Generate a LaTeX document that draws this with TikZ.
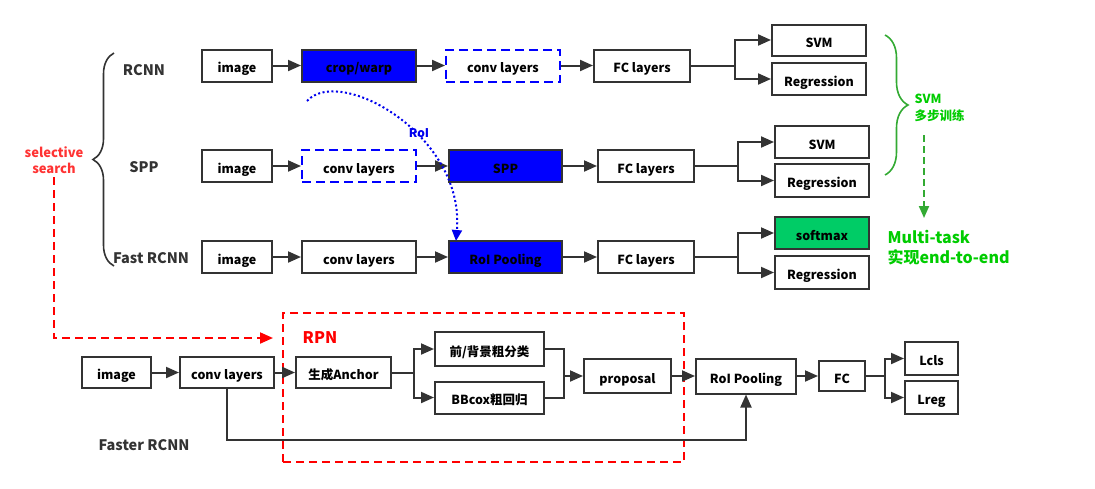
\documentclass[tikz,border=0pt]{standalone}
\usepackage{fontspec}
\setmainfont{Noto Sans CJK SC}
\usetikzlibrary{arrows.meta,decorations.pathreplacing}
\definecolor{dk}{HTML}{333333}
\definecolor{bfill}{HTML}{0000FF}
\definecolor{gfill}{HTML}{00CC66}
\definecolor{rd}{HTML}{FF0000}
\definecolor{ssred}{HTML}{FF3333}
\definecolor{gbr}{HTML}{33AA33}
\definecolor{gtx}{HTML}{00CC00}
\definecolor{roiblue}{HTML}{0000EE}
\begin{document}
\begin{tikzpicture}[x=1pt,y=-1pt,
  sz/.style 2 args={minimum width=#1pt, minimum height=#2pt},
  box/.style={draw=dk, line width=2pt, fill=white, inner sep=0pt, text height=14pt, text depth=0pt, text=black, font=\bfseries\fontsize{12.5}{14}\selectfont},
  dbox/.style={box, draw=blue, dash pattern=on 9pt off 5pt},
  bbox/.style={box, fill=bfill},
  gbox/.style={box, fill=gfill},
  ln/.style={draw=dk, line width=2pt},
  arr/.style={ln, -{Triangle[length=13pt,width=11pt]}},
  lbl/.style={text=dk, font=\bfseries\fontsize{14.5}{16}\selectfont},
  roiarr/.style={draw=roiblue, line width=2pt, dash pattern=on 2pt off 2.5pt, -{Triangle[length=11pt,width=10pt]}},
  rdarr/.style={draw=rd, line width=2pt, dash pattern=on 8pt off 5pt, -{Triangle[length=13pt,width=11pt]}},
  garr/.style={draw=gbr, line width=2pt, dash pattern=on 7pt off 4pt, -{Triangle[length=12pt,width=10pt]}}
]
\useasboundingbox[fill=white] (0,0) rectangle (1095,488);

% left labels and brace
\node[lbl] (rcl) at (144,70) {RCNN};
\node[lbl] (sppl) at (144,167) {SPP};
\node[lbl] (fastl) at (151,258) {Fast RCNN};
\draw[dk, line width=1.6pt, decorate, decoration={brace, amplitude=21pt}] (114,266) -- (114,53);
\node[text=ssred, align=center, font=\bfseries\fontsize{13}{16.5}\selectfont] (ss) at (54,160) {selective\\search};

% row 1
\node[box,sz={70}{32}] (i1) at (237,65.5) {image};
\node[bbox,sz={114}{32}] (c1) at (359,65.5) {crop/warp};
\node[dbox,sz={114}{32}] (v1) at (503,65.5) {conv layers};
\node[box,sz={96}{32}] (f1) at (642,65.5) {FC layers};
\node[box,sz={94}{31}] (s1) at (819,40) {SVM};
\node[box,sz={94}{32}] (r1) at (819,79) {Regression};
\draw[arr] (i1) -- (c1);
\draw[arr] (c1) -- (v1);
\draw[arr] (v1) -- (f1);
\draw[arr] (f1.east) -- ++(43.5,0) |- (s1.west);
\draw[arr] (f1.east) -- ++(43.5,0) |- (r1.west);

% row 2
\node[box,sz={70}{32}] (i2) at (237,166) {image};
\node[dbox,sz={114}{32}] (v2) at (359,166) {conv layers};
\node[bbox,sz={113}{32}] (sp2) at (505.5,166) {SPP};
\node[box,sz={96}{32}] (f2) at (646,166) {FC layers};
\node[box,sz={94}{32}] (s2) at (822,142) {SVM};
\node[box,sz={94}{33}] (r2) at (822,180.5) {Regression};
\draw[arr] (i2) -- (v2);
\draw[arr] (v2) -- (sp2);
\draw[arr] (sp2) -- (f2);
\draw[arr] (f2.east) -- ++(43,0) |- (s2.west);
\draw[arr] (f2.east) -- ++(43,0) |- (r2.west);

% row 3
\node[box,sz={70}{32}] (i3) at (237,257) {image};
\node[box,sz={114}{32}] (v3) at (359,257) {conv layers};
\node[bbox,sz={113}{32}] (ro3) at (505.5,257) {RoI Pooling};
\node[box,sz={96}{32}] (f3) at (646,257) {FC layers};
\node[gbox,sz={94}{32}] (s3) at (822,233) {softmax};
\node[box,sz={94}{33}] (r3) at (822,272.5) {Regression};
\draw[arr] (i3) -- (v3);
\draw[arr] (v3) -- (ro3);
\draw[arr] (ro3) -- (f3);
\draw[arr] (f3.east) -- ++(43,0) |- (s3.west);
\draw[arr] (f3.east) -- ++(43,0) |- (r3.west);

% RoI dotted arrow
\coordinate (roiA) at (307,101);
\coordinate (roiB) at (456,241);
\draw[roiarr] (roiA) .. controls (340,65) and (465,135) .. (roiB);
\node[text=roiblue, font=\bfseries\fontsize{12}{14}\selectfont] (roil) at (419,133) {RoI};

% green brace and texts
\draw[gbr, line width=1.6pt, decorate, decoration={brace, amplitude=23pt}] (885,35) -- (885,175);
\node[anchor=west, text=gtx, align=left, font=\bfseries\fontsize{12.5}{17}\selectfont] (svmt) at (911,107.5) {SVM\\多步训练};
\coordinate (gA) at (924,135);
\coordinate (gB) at (924,218);
\draw[garr] (gA) -- (gB);
\node[anchor=west, text=gtx, align=left, font=\bfseries\fontsize{16}{20}\selectfont] (mt) at (884,248) {Multi-task\\实现end-to-end};

% Faster RCNN
\node[draw=rd, line width=2pt, dash pattern=on 8pt off 5pt, minimum width=401pt, minimum height=149pt, inner sep=0pt] (rpn) at (483.5,387.5) {};
\node[text=rd, font=\bfseries\fontsize{16}{18}\selectfont] (rpnl) at (320,338) {RPN};
\coordinate (rdend) at (273,338);
\draw[rdarr] (ss.south) |- (rdend);

\node[box,sz={69}{31}] (i4) at (116.5,372.5) {image};
\node[box,sz={94}{31}] (c4) at (227,372.5) {conv layers};
\node[box,sz={95}{31}] (a4) at (343.5,372.5) {生成Anchor};
\node[box,sz={109}{34}] (cl4) at (489.5,349) {前/背景粗分类};
\node[box,sz={109}{32}] (bb4) at (489.5,397.5) {BBcox粗回归};
\node[box,sz={87}{34}] (p4) at (627.5,376) {proposal};
\node[box,sz={100}{35}] (r4) at (746,376) {RoI Pooling};
\node[box,sz={46}{30}] (fc4) at (842,376) {FC};
\node[box,sz={53}{33}] (lc4) at (931.5,358.5) {Lcls};
\node[box,sz={53}{33}] (lr4) at (931.5,397.5) {Lreg};
\coordinate (m4) at (564,376);
\draw[arr] (i4) -- (c4);
\draw[arr] (c4) -- (a4);
\draw[arr] (a4.east) -- ++(22,0) |- (cl4.west);
\draw[arr] (a4.east) -- ++(22,0) |- (bb4.west);
\draw[ln] (cl4.east) -| (m4);
\draw[ln] (bb4.east) -| (m4);
\draw[arr] (m4) -- (p4.west);
\draw[arr] (p4) -- (r4);
\draw[arr] (r4) -- (fc4);
\draw[arr] (fc4.east) -- ++(19,0) |- (lc4.west);
\draw[arr] (fc4.east) -- ++(19,0) |- (lr4.west);
\draw[arr] (c4.south) -- ++(0,51) -| (r4.south);
\node[lbl] (frl) at (144,445) {Faster RCNN};
\end{tikzpicture}
\end{document}
